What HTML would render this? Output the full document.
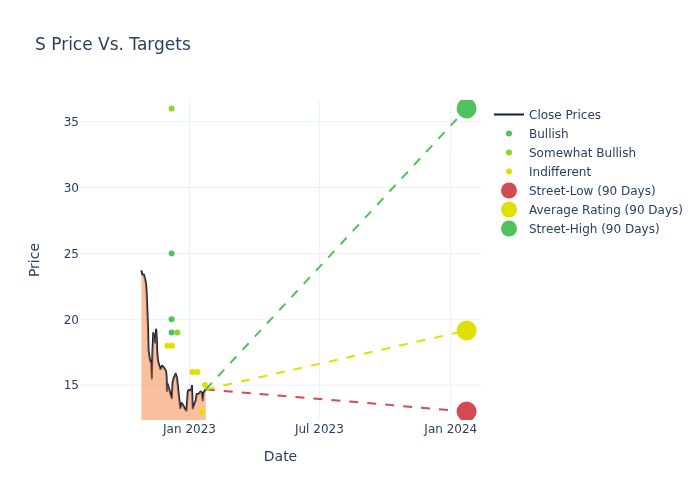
<!DOCTYPE html>
<html><head><meta charset="utf-8"><title>S Price Vs. Targets</title>
<style>html,body{margin:0;padding:0;background:#fff}body{width:700px;height:500px;overflow:hidden}</style></head>
<body>
<svg width="700" height="500" viewBox="0 0 700 500" style="display:block;font-family:'DejaVu Sans','Liberation Sans',sans-serif">
<rect width="700" height="500" fill="#fff"/>
<defs><clipPath id="pc"><rect x="80" y="100" width="401" height="320"/></clipPath></defs>
<path d="M189.5,100V420" stroke="#ebf0f8" stroke-width="1" fill="none"/>
<path d="M319.4,100V420" stroke="#ebf0f8" stroke-width="1" fill="none"/>
<path d="M450.8,100V420" stroke="#ebf0f8" stroke-width="1" fill="none"/>
<path d="M80,121.45H481" stroke="#ebf0f8" stroke-width="1" fill="none"/>
<path d="M80,187.42H481" stroke="#ebf0f8" stroke-width="1" fill="none"/>
<path d="M80,253.42H481" stroke="#ebf0f8" stroke-width="1" fill="none"/>
<path d="M80,319.33H481" stroke="#ebf0f8" stroke-width="1" fill="none"/>
<path d="M80,385.15H481" stroke="#ebf0f8" stroke-width="1" fill="none"/>
<g clip-path="url(#pc)">
<path d="M141.4,270.4 L142.3,274.8 L143.8,274.4 L145.2,279.5 L145.9,283.5 L146.4,289 L146.7,295 L147.9,325 L148.5,350 L149.2,355 L149.8,359.3 L150.5,361.6 L151.3,362.8 L151.85,378.5 L152.45,352 L153.3,333.1 L155.2,342.8 L156.15,329.6 L156.9,341 L157.0,349 L157.5,356 L158.0,361 L160.4,369.2 L162.2,365.7 L164.5,368.5 L166.0,371.0 L166.6,377 L166.9,391 L167.6,384 L171.8,398.3 L172.6,383 L173.5,379 L175.7,373.7 L177,378 L177.7,385 L179,397 L180.3,408.2 L181.8,403.1 L183.5,406 L185,409 L186.4,410.75 L187.45,397 L187.7,392.5 L188.5,390.1 L191.2,390.4 L191.95,386.1 L192.3,397 L192.7,408.4 L194,405 L195.9,400 L196.7,393.9 L198.5,394 L200.5,391.5 L201.8,392.5 L202.7,400.5 L203.5,393 L204.5,391 L205.8,389.5" fill="none" stroke="#0c2140" stroke-width="2" stroke-linejoin="round"/>
<path d="M141.4,270.4 L142.3,274.8 L143.8,274.4 L145.2,279.5 L145.9,283.5 L146.4,289 L146.7,295 L147.9,325 L148.5,350 L149.2,355 L149.8,359.3 L150.5,361.6 L151.3,362.8 L151.85,378.5 L152.45,352 L153.3,333.1 L155.2,342.8 L156.15,329.6 L156.9,341 L157.0,349 L157.5,356 L158.0,361 L160.4,369.2 L162.2,365.7 L164.5,368.5 L166.0,371.0 L166.6,377 L166.9,391 L167.6,384 L171.8,398.3 L172.6,383 L173.5,379 L175.7,373.7 L177,378 L177.7,385 L179,397 L180.3,408.2 L181.8,403.1 L183.5,406 L185,409 L186.4,410.75 L187.45,397 L187.7,392.5 L188.5,390.1 L191.2,390.4 L191.95,386.1 L192.3,397 L192.7,408.4 L194,405 L195.9,400 L196.7,393.9 L198.5,394 L200.5,391.5 L201.8,392.5 L202.7,400.5 L203.5,393 L204.5,391 L205.8,389.5 L205.8,420 L141.4,420 Z" fill="rgba(245,130,60,0.5)" stroke="none"/>
<circle cx="171.6" cy="108.4" r="3" fill="#94d02f"/>
<circle cx="171.6" cy="253.4" r="3" fill="#50c25d"/>
<circle cx="171.6" cy="319.3" r="3" fill="#50c25d"/>
<circle cx="171.6" cy="332.5" r="3" fill="#50c25d"/>
<circle cx="177.3" cy="332.5" r="3" fill="#94d02f"/>
<circle cx="167.3" cy="345.7" r="3" fill="#e0e000"/>
<circle cx="172.1" cy="345.7" r="3" fill="#e0e000"/>
<circle cx="192.5" cy="372.0" r="3" fill="#e0e000"/>
<circle cx="197.5" cy="372.0" r="3" fill="#e0e000"/>
<circle cx="205" cy="385.1" r="3" fill="#e0e000"/>
<circle cx="201.9" cy="411.5" r="3" fill="#e0e000"/>
<path d="M205.8,389.45L466.6,411.5" stroke="#d44b53" stroke-width="2" stroke-dasharray="9,9" fill="none"/>
<circle cx="466.6" cy="411.5" r="10" fill="#d44b53"/>
<path d="M205.8,389.45L466.6,330.5" stroke="#e0e000" stroke-width="2" stroke-dasharray="9,9" fill="none"/>
<circle cx="466.6" cy="330.5" r="10" fill="#e0e000"/>
<path d="M205.8,389.45L466.6,108.4" stroke="#50c25d" stroke-width="2" stroke-dasharray="9,9" fill="none"/>
<circle cx="466.6" cy="108.4" r="10" fill="#50c25d"/>
</g>
<text x="79" y="126" text-anchor="end" font-size="12" fill="#2a3f5f">35</text>
<text x="79" y="192" text-anchor="end" font-size="12" fill="#2a3f5f">30</text>
<text x="79" y="258" text-anchor="end" font-size="12" fill="#2a3f5f">25</text>
<text x="79" y="324" text-anchor="end" font-size="12" fill="#2a3f5f">20</text>
<text x="79" y="389" text-anchor="end" font-size="12" fill="#2a3f5f">15</text>
<text x="189.5" y="433" text-anchor="middle" font-size="12" fill="#2a3f5f">Jan 2023</text>
<text x="319.4" y="433" text-anchor="middle" font-size="12" fill="#2a3f5f">Jul 2023</text>
<text x="450.8" y="433" text-anchor="middle" font-size="12" fill="#2a3f5f">Jan 2024</text>
<text x="280.5" y="460.5" text-anchor="middle" font-size="14" fill="#2a3f5f">Date</text>
<text transform="translate(39,260) rotate(-90)" text-anchor="middle" font-size="14" fill="#2a3f5f">Price</text>
<text x="35" y="50" font-size="17" fill="#2a3f5f">S Price Vs. Targets</text>
<path d="M494,114.5H524" stroke="#0c2140" stroke-width="2"/>
<text x="529" y="118.7" font-size="12" fill="#2a3f5f">Close Prices</text>
<circle cx="509" cy="133.5" r="3" fill="#50c25d"/>
<text x="529" y="137.7" font-size="12" fill="#2a3f5f">Bullish</text>
<circle cx="509" cy="152.5" r="3" fill="#94d02f"/>
<text x="529" y="156.7" font-size="12" fill="#2a3f5f">Somewhat Bullish</text>
<circle cx="509" cy="171.5" r="3" fill="#e0e000"/>
<text x="529" y="175.7" font-size="12" fill="#2a3f5f">Indifferent</text>
<circle cx="509" cy="190.5" r="8" fill="#d44b53"/>
<text x="529" y="194.7" font-size="12" fill="#2a3f5f">Street-Low (90 Days)</text>
<circle cx="509" cy="209.5" r="8" fill="#e0e000"/>
<text x="529" y="213.7" font-size="12" fill="#2a3f5f">Average Rating (90 Days)</text>
<circle cx="509" cy="228.5" r="8" fill="#50c25d"/>
<text x="529" y="232.7" font-size="12" fill="#2a3f5f">Street-High (90 Days)</text>
</svg>
</body></html>
